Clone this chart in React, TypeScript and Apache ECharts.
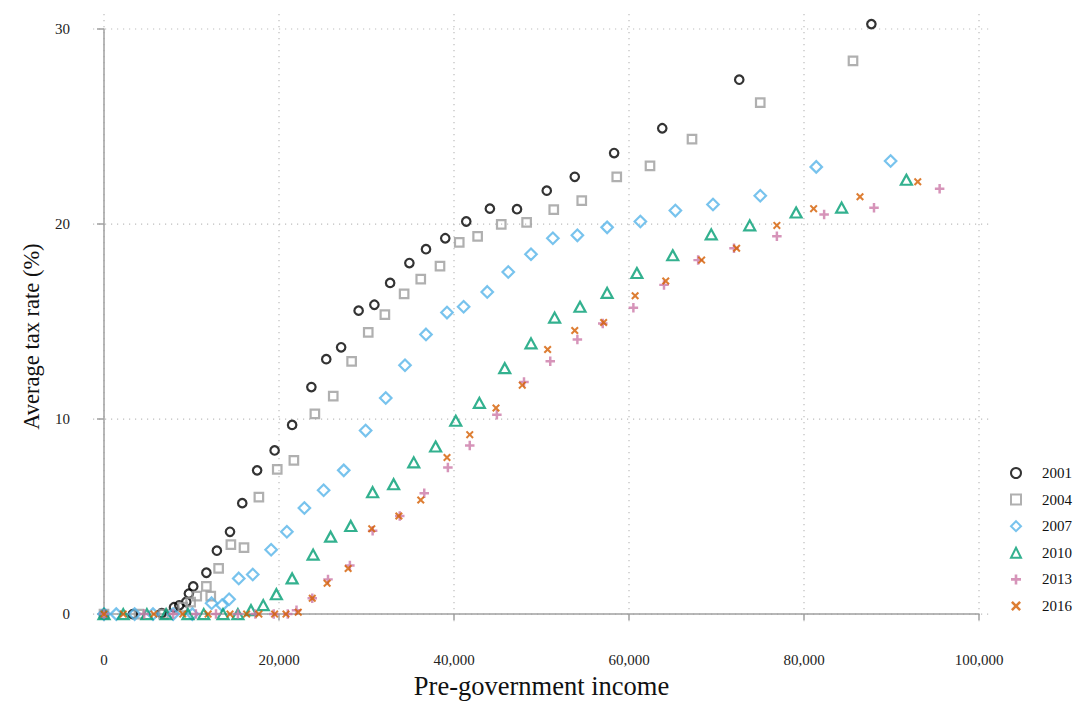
import React, { useEffect, useRef } from "react";
import * as echarts from "echarts";

const years = ["2001", "2004", "2007", "2010", "2013", "2016"];

const data2001: [number, number][] = [
  [0, 0], [3300, 0], [6600, 0.05], [8000, 0.35], [8600, 0.45], [9400, 0.62], [9700, 1.05],
  [10200, 1.42], [11700, 2.12], [12900, 3.25], [14400, 4.22], [15800, 5.69], [17500, 7.37],
  [19500, 8.39], [21500, 9.7], [23700, 11.64], [25400, 13.07], [27100, 13.68], [29100, 15.56],
  [30900, 15.86], [32700, 16.98], [34900, 18.0], [36800, 18.71], [39000, 19.27], [41400, 20.13],
  [44100, 20.79], [47200, 20.76], [50600, 21.71], [53800, 22.42], [58300, 23.64], [63800, 24.91],
  [72600, 27.4], [87700, 30.25],
];

const data2004: [number, number][] = [
  [0, 0], [4000, 0], [6800, 0], [9000, 0.36], [9900, 0.61], [10600, 0.92], [11700, 1.42],
  [12200, 0.92], [13100, 2.34], [14500, 3.56], [16000, 3.41], [17700, 6.0], [19800, 7.42],
  [21700, 7.88], [24100, 10.27], [26200, 11.18], [28300, 12.96], [30200, 14.44], [32100, 15.35],
  [34300, 16.42], [36200, 17.18], [38400, 17.84], [40600, 19.06], [42700, 19.37], [45400, 19.98],
  [48300, 20.08], [51400, 20.74], [54600, 21.2], [58600, 22.42], [62400, 22.98], [67200, 24.35],
  [75000, 26.23], [85600, 28.37],
];

const data2007: [number, number][] = [
  [0, 0], [1400, 0], [3500, 0], [5600, 0], [7900, 0], [10100, 0], [12300, 0.56], [13500, 0.46],
  [14300, 0.76], [15400, 1.83], [17000, 2.03], [19100, 3.3], [20900, 4.22], [22900, 5.44],
  [25100, 6.35], [27400, 7.37], [29900, 9.41], [32200, 11.08], [34400, 12.76], [36800, 14.34],
  [39200, 15.46], [41100, 15.76], [43800, 16.52], [46200, 17.54], [48800, 18.45], [51300, 19.27],
  [54100, 19.42], [57500, 19.83], [61300, 20.13], [65300, 20.69], [69600, 21.0], [75000, 21.45],
  [81400, 22.93], [89900, 23.23],
];

const data2010: [number, number][] = [
  [0, 0], [2200, 0], [4900, 0], [7100, 0], [9600, 0], [11400, 0], [13600, 0], [15300, 0],
  [16800, 0.2], [18200, 0.46], [19700, 1.02], [21500, 1.83], [23900, 3.05], [25900, 3.97],
  [28200, 4.52], [30700, 6.25], [33100, 6.66], [35400, 7.78], [37900, 8.59], [40200, 9.91],
  [42900, 10.83], [45800, 12.61], [48800, 13.88], [51500, 15.2], [54400, 15.76], [57500, 16.47],
  [60900, 17.49], [65000, 18.4], [69400, 19.47], [73800, 19.93], [79100, 20.59], [84300, 20.84],
  [91700, 22.27],
];

const data2013: [number, number][] = [
  [0, 0], [4600, 0], [7900, 0], [10500, 0], [12800, 0], [15300, 0], [17300, 0], [19400, 0],
  [21000, 0], [22000, 0.2], [23800, 0.81], [25600, 1.78], [28100, 2.49], [30700, 4.27],
  [33800, 5.03], [36600, 6.2], [39300, 7.52], [41800, 8.64], [44900, 10.22], [48000, 11.9],
  [51000, 12.96], [54100, 14.08], [57000, 14.9], [60500, 15.71], [64000, 16.88], [67900, 18.15],
  [72000, 18.76], [76900, 19.37], [82300, 20.49], [88000, 20.84], [95500, 21.81],
];

const data2016: [number, number][] = [
  [0, 0], [2200, 0], [5700, 0], [9000, 0], [11900, 0], [14400, 0], [16300, 0], [17700, 0],
  [19500, 0], [20800, 0], [22200, 0.1], [23800, 0.81], [25500, 1.58], [27900, 2.34],
  [30600, 4.37], [33700, 5.03], [36200, 5.85], [39200, 8.03], [41800, 9.2], [44800, 10.57],
  [47800, 11.74], [50700, 13.57], [53800, 14.54], [57100, 14.95], [60700, 16.32], [64200, 17.08],
  [68300, 18.15], [72300, 18.76], [76900, 19.93], [81100, 20.79], [86400, 21.4], [93000, 22.17],
];

const xTicks = [0, 20000, 40000, 60000, 80000, 100000];
const yTicks = [0, 10, 20, 30];

const FONT = "'Liberation Serif', 'Times New Roman', serif";
const PLUS = "path://M3.7,0H6.3V3.7H10V6.3H6.3V10H3.7V6.3H0V3.7H3.7Z";
const CROSS =
  "path://M0,1.8L1.8,0L5,3.2L8.2,0L10,1.8L6.8,5L10,8.2L8.2,10L5,6.8L1.8,10L0,8.2L3.2,5Z";

export default function App() {
  const ref = useRef<HTMLDivElement>(null);

  useEffect(() => {
    document.body.style.margin = "0";
    const chart = echarts.init(ref.current!, null, { renderer: "svg", width: 1075, height: 704 });

    const hollow = (color: string, w = 2.2) => ({
      color: "transparent",
      borderColor: color,
      borderWidth: w,
    });

    const seriesDefs = [
      { name: "2001", data: data2001, symbol: "circle", symbolSize: 8.5, itemStyle: hollow("#000000") },
      { name: "2004", data: data2004, symbol: "rect", symbolSize: 8.5, itemStyle: hollow("#9c9c9c") },
      { name: "2007", data: data2007, symbol: "diamond", symbolSize: 11.5, itemStyle: hollow("#56b4e9") },
      { name: "2010", data: data2010, symbol: "triangle", symbolSize: [11, 10], itemStyle: hollow("#009e73") },
      { name: "2013", data: data2013, symbol: PLUS, symbolSize: 9.5, itemStyle: { color: "#cc79a7", borderWidth: 0 } },
      { name: "2016", data: data2016, symbol: CROSS, symbolSize: 8, itemStyle: { color: "#d55e00", borderWidth: 0 } },
    ];

    const axisGray = "#a0a0a0";

    chart.setOption({
      animation: false,
      backgroundColor: "#ffffff",
      textStyle: { fontFamily: FONT },
      grid: { left: 104, width: 875, top: 29, height: 590, containLabel: false },
      xAxis: {
        type: "value",
        min: 0,
        max: 100000,
        interval: 20000,
        offset: 26,
        axisLine: { show: true, lineStyle: { color: axisGray, width: 1.5 } },
        axisTick: { show: true, length: 6, lineStyle: { color: axisGray, width: 1.5 } },
        axisLabel: {
          fontFamily: FONT,
          fontSize: 15,
          color: "#222",
          margin: 12,
          formatter: (v: number) => v.toLocaleString("en-US"),
        },
        splitLine: { show: false },
        name: "Pre-government income",
        nameLocation: "middle",
        nameGap: 30,
        nameTextStyle: { fontFamily: FONT, fontSize: 26.5, color: "#111" },
      },
      yAxis: {
        type: "value",
        min: 0,
        max: 30,
        interval: 10,
        offset: 16,
        axisLine: { show: true, lineStyle: { color: axisGray, width: 1.5 } },
        axisTick: { show: true, length: 7, lineStyle: { color: axisGray, width: 1.5 } },
        axisLabel: { fontFamily: FONT, fontSize: 15, color: "#222", margin: 18 },
        splitLine: { show: false },
        name: "Average tax rate (%)",
        nameLocation: "middle",
        nameGap: 45,
        nameTextStyle: { fontFamily: FONT, fontSize: 22.5, color: "#111", padding: [0, 30, 0, 0] },
      },
      legend: {
        orient: "vertical",
        left: 1010,
        top: 465.5,
        padding: 0,
        itemWidth: 10,
        itemHeight: 10,
        itemGap: 11.6,
        data: years,
        textStyle: { fontFamily: FONT, fontSize: 15, color: "#111", lineHeight: 15, padding: [0, 0, 0, 16] },
      },
      series: seriesDefs.map((s) => ({
        type: "scatter",
        name: s.name,
        data: s.data,
        symbol: s.symbol,
        symbolSize: s.symbolSize,
        itemStyle: s.itemStyle,
        clip: false,
        emphasis: { disabled: true },
      })),
    });

    // dotted grid lines extending slightly beyond the data region, placed via the axes' own scales
    const lo = chart.convertToPixel({ gridIndex: 0 }, [0, 0]) as number[];
    const hi = chart.convertToPixel({ gridIndex: 0 }, [100000, 30]) as number[];
    const gridStyle = { stroke: "#bdbdbd", lineWidth: 1.2, lineDash: [1.2, 4.8] };
    const graphics: any[] = [];
    xTicks.forEach((v) => {
      const px = chart.convertToPixel({ xAxisIndex: 0 }, v) as number;
      graphics.push({
        type: "line",
        silent: true,
        z: -1,
        shape: { x1: px, y1: hi[1] - 15, x2: px, y2: lo[1] + 11 },
        style: gridStyle,
      });
    });
    yTicks.forEach((v) => {
      const py = chart.convertToPixel({ yAxisIndex: 0 }, v) as number;
      graphics.push({
        type: "line",
        silent: true,
        z: -1,
        shape: { x1: lo[0] - 11, y1: py, x2: hi[0] + 13, y2: py },
        style: gridStyle,
      });
    });
    chart.setOption({ graphic: graphics });

    return () => chart.dispose();
  }, []);

  return <div ref={ref} style={{ width: 1075, height: 704, background: "#fff" }} />;
}
